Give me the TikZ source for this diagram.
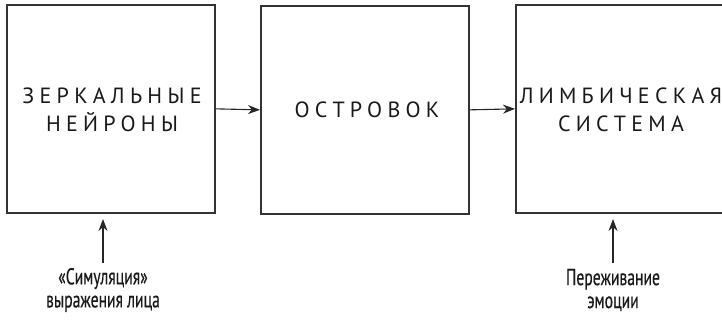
\documentclass[tikz,border=0pt]{standalone}
\usepackage{fontspec}
\setmainfont{PT Sans}
\newfontfamily\capsfont[LetterSpace=24]{PT Sans}
\newfontfamily\narrowfont[FakeStretch=0.68,FakeBold=0.4]{PT Sans}
\usetikzlibrary{arrows.meta}
\begin{document}
\begin{tikzpicture}[x=1pt,y=-1pt,
  blk/.style={draw=black!80,line width=1.7pt,minimum width=208pt,minimum height=208pt,inner sep=0pt,anchor=north west},
  blktext/.style={font=\capsfont\fontsize{22}{28}\selectfont,text=black!90,align=center},
  lbl/.style={font=\narrowfont\fontsize{23}{23}\selectfont,text=black!90,align=center},
  conn/.style={draw=black!85,line width=1.1pt,-{Stealth[length=12pt,width=9pt]}}]
\useasboundingbox (0,0) rectangle (722,321);
\node[blk] (b1) at (6,4) {};
\node[blk] (b2) at (260,5) {};
\node[blk,minimum width=214pt] (b3) at (515,4) {};
\node[blktext] (t1) at (112,110) {ЗЕРКАЛЬНЫЕ\\НЕЙРОНЫ};
\node[blktext] (t2) at (367,110) {ОСТРОВОК};
\node[blktext] (t3) at (621,110) {ЛИМБИЧЕСКАЯ\\СИСТЕМА};
\node[lbl] (l1) at (103,290) {«Симуляция»\\выражения лица};
\node[lbl] (l2) at (613,290) {Переживание\\эмоции};
\coordinate (s1) at (103,263);
\coordinate (e1) at (103,219);
\coordinate (s2) at (613,263);
\coordinate (e2) at (613,219);
\draw[conn] (b1.east) -- (b2.west);
\draw[conn] (b2.east) -- (b3.west);
\draw[conn] (s1) -- (e1);
\draw[conn] (s2) -- (e2);
\end{tikzpicture}
\end{document}
